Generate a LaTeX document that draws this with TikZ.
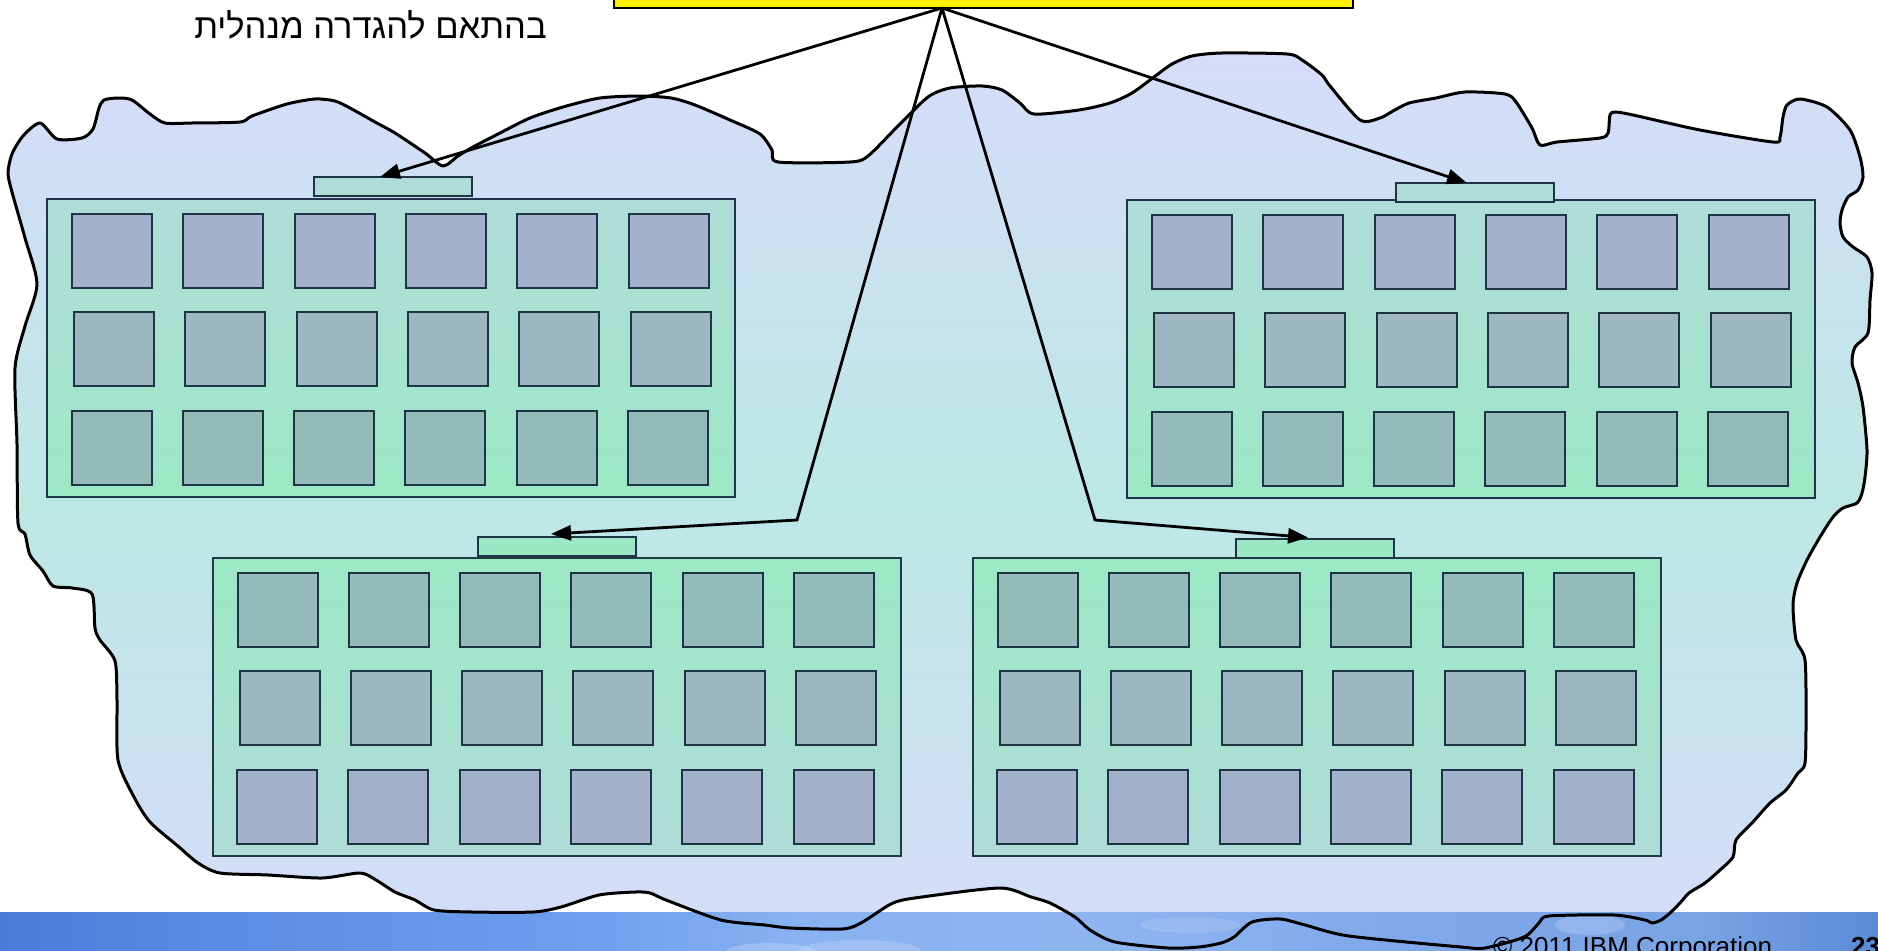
\documentclass[tikz,border=0pt]{standalone}
\usepackage{fontspec}
\setmainfont{Liberation Sans}
\newfontfamily\hebfont[Script=Hebrew]{Liberation Sans}
\TeXXeTstate=1
\usetikzlibrary{arrows.meta,calc}
\definecolor{cloudTop}{HTML}{D6DCFA}
\definecolor{cloudMid}{HTML}{BCE8E4}
\definecolor{rackBlue}{HTML}{B0DCD8}
\definecolor{rackGreen}{HTML}{9CE8C6}
\definecolor{sqA}{HTML}{A4B1CB}
\definecolor{sqB}{HTML}{9CB6C2}
\definecolor{sqC}{HTML}{94BBB9}
\definecolor{edgeNavy}{HTML}{22324E}
\definecolor{edgeTeal}{HTML}{1E3C42}
\definecolor{sqedge}{HTML}{1F3346}
\definecolor{barA}{HTML}{4A7BD8}
\definecolor{barB}{HTML}{5A8BE3}
\definecolor{barC}{HTML}{6F9FEE}
\definecolor{barD}{HTML}{88B2F1}
\definecolor{barE}{HTML}{8FB5F0}
\definecolor{barF}{HTML}{80A8EA}
\definecolor{barG}{HTML}{78A3E5}
\definecolor{barH}{HTML}{5B8AD6}
\newcommand{\DrawRack}[8]{%
  \path[draw=#8, line width=2pt, top color=#3, bottom color=#4] (#1,#2) rectangle ++(688,297.5);
  \foreach \c in {0,...,5}{%
    \path[sq, fill=#5] ({#1+25+111.3*\c},{#2+14.5}) rectangle ++(80,74);
    \path[sq, fill=#6] ({#1+27+111.3*\c},{#2+113}) rectangle ++(80,74);
    \path[sq, fill=#7] ({#1+24.5+111.3*\c},{#2+211.5}) rectangle ++(80,74);
  }%
}
\begin{document}
\begin{tikzpicture}[x=1pt,y=-1pt,
  cloudline/.style={draw=black, line width=3pt, line join=round},
  sq/.style={draw=sqedge, line width=2pt},
  smallbox/.style={draw=sqedge, line width=2pt, inner sep=0pt, outer sep=0pt, minimum width=158pt, minimum height=19pt, anchor=north west},
  conn/.style={draw=black, line width=2.8pt},
  arr/.style={conn, -{Triangle[length=20pt,width=15pt]}},
  ybox/.style={draw=black, line width=2.5pt, fill=yellow, inner sep=0pt, outer sep=0pt, anchor=north west}
]
\useasboundingbox (0,0) rectangle (1878,950);
\clip (0,0) rectangle (1878,950);
\fill[white] (0,0) rectangle (1878,950);
% cloud fill
\shade[top color=cloudTop, bottom color=cloudTop, middle color=cloudMid]
 plot[smooth cycle, tension=0.45] coordinates {
 (40,123) (57,139) (82,138) (93,129) (99,108) (104,100) (118,98) (132,100) (150,114) (165,123) (192,123) (240,122) (252,116) (287,104) (315,99) (335,101) (350,108) (375,122) (395,133) (425,153) (443,166) (458,156) (473,147) (500,133) (530,118) (563,107) (600,98) (640,96) (671,98) (695,105) (730,120) (760,134) (772,150) (778,162) (850,162) (868,156) (898,126) (928,97) (950,88) (982,86) (1002,90) (1020,103) (1034,114) (1079,110) (1110,103) (1132,93) (1154,77) (1172,64) (1192,56) (1222,53) (1287,54) (1302,60) (1322,75) (1330,86) (1360,120) (1380,118) (1393,111) (1409,103) (1436,98) (1465,92) (1505,94) (1516,102) (1532,128) (1540,145) (1557,142) (1600,138) (1608,133) (1610,115) (1615,112) (1633,115) (1700,130) (1773,142) (1780,137) (1783,117) (1787,105) (1800,99) (1827,107) (1850,130) (1860,157) (1863,177)
 (1858,190) (1848,197) (1842,210) (1840,223) (1843,237) (1853,247) (1867,257) (1872,273) (1870,300) (1868,333) (1855,347) (1852,363) (1858,383) (1863,407) (1867,450) (1865,477) (1862,493) (1857,503) (1843,508) (1833,517) (1820,537) (1807,560) (1797,583) (1793,605) (1796,640) (1805,660) (1806,717) (1805,763) (1798,773) (1786,790) (1770,803) (1752,823) (1736,840) (1733,857) (1720,870) (1705,883) (1689,893) (1680,903) (1670,913) (1661,920) (1652,923) (1645,920) (1614,915) (1549,916) (1539,923) (1524,937) (1485,948) (1461,947) (1349,936) (1305,925) (1280,919) (1252,922) (1234,937) (1221,943) (1199,947) (1168,948) (1115,942) (1090,930) (1075,917) (1050,903) (1031,897) (1000,888) (922,897) (893,903) (861,923) (842,929) (790,928) (765,925) (721,920) (666,900) (650,893) (635,892) (599,895) (561,907) (533,912) (472,912) (434,910) (415,900) (395,892) (376,880) (360,873) (322,878) (268,875) (220,873) (198,863) (179,847) (150,822) (134,797) (118,760) (117,700) (115,661) (100,640) (95,628) (92,594) (72,588) (53,586) (43,571) (30,555) (25,534) (18,523) (17,444) (15,368) (25,326) (37,284) (25,238) (12,192) (8,173) (12,154) (23,136)
 };
% bottom bar
\shade[left color=barA, right color=barB] (0,912) rectangle (201,950);
\shade[left color=barB, right color=barC] (200,912) rectangle (601,950);
\shade[left color=barC, right color=barD] (600,912) rectangle (801,950);
\shade[left color=barD, right color=barE] (800,912) rectangle (1101,950);
\shade[left color=barE, right color=barF] (1100,912) rectangle (1401,950);
\shade[left color=barF, right color=barG] (1400,912) rectangle (1701,950);
\shade[left color=barG, right color=barH] (1700,912) rectangle (1878,950);
\fill[white, opacity=0.2] (770,952) ellipse (45 and 9);
\fill[white, opacity=0.18] (860,950) ellipse (60 and 10);
\fill[white, opacity=0.12] (1190,925) ellipse (50 and 8);
\fill[white, opacity=0.18] (1590,925) ellipse (35 and 10);
% cloud outline
\draw[cloudline]
 plot[smooth cycle, tension=0.45] coordinates {
 (40,123) (57,139) (82,138) (93,129) (99,108) (104,100) (118,98) (132,100) (150,114) (165,123) (192,123) (240,122) (252,116) (287,104) (315,99) (335,101) (350,108) (375,122) (395,133) (425,153) (443,166) (458,156) (473,147) (500,133) (530,118) (563,107) (600,98) (640,96) (671,98) (695,105) (730,120) (760,134) (772,150) (778,162) (850,162) (868,156) (898,126) (928,97) (950,88) (982,86) (1002,90) (1020,103) (1034,114) (1079,110) (1110,103) (1132,93) (1154,77) (1172,64) (1192,56) (1222,53) (1287,54) (1302,60) (1322,75) (1330,86) (1360,120) (1380,118) (1393,111) (1409,103) (1436,98) (1465,92) (1505,94) (1516,102) (1532,128) (1540,145) (1557,142) (1600,138) (1608,133) (1610,115) (1615,112) (1633,115) (1700,130) (1773,142) (1780,137) (1783,117) (1787,105) (1800,99) (1827,107) (1850,130) (1860,157) (1863,177)
 (1858,190) (1848,197) (1842,210) (1840,223) (1843,237) (1853,247) (1867,257) (1872,273) (1870,300) (1868,333) (1855,347) (1852,363) (1858,383) (1863,407) (1867,450) (1865,477) (1862,493) (1857,503) (1843,508) (1833,517) (1820,537) (1807,560) (1797,583) (1793,605) (1796,640) (1805,660) (1806,717) (1805,763) (1798,773) (1786,790) (1770,803) (1752,823) (1736,840) (1733,857) (1720,870) (1705,883) (1689,893) (1680,903) (1670,913) (1661,920) (1652,923) (1645,920) (1614,915) (1549,916) (1539,923) (1524,937) (1485,948) (1461,947) (1349,936) (1305,925) (1280,919) (1252,922) (1234,937) (1221,943) (1199,947) (1168,948) (1115,942) (1090,930) (1075,917) (1050,903) (1031,897) (1000,888) (922,897) (893,903) (861,923) (842,929) (790,928) (765,925) (721,920) (666,900) (650,893) (635,892) (599,895) (561,907) (533,912) (472,912) (434,910) (415,900) (395,892) (376,880) (360,873) (322,878) (268,875) (220,873) (198,863) (179,847) (150,822) (134,797) (118,760) (117,700) (115,661) (100,640) (95,628) (92,594) (72,588) (53,586) (43,571) (30,555) (25,534) (18,523) (17,444) (15,368) (25,326) (37,284) (25,238) (12,192) (8,173) (12,154) (23,136)
 };
% racks
\DrawRack{47}{199}{rackBlue}{rackGreen}{sqA}{sqB}{sqC}{edgeNavy}
\DrawRack{1127}{200}{rackBlue}{rackGreen}{sqA}{sqB}{sqC}{edgeNavy}
\DrawRack{212.5}{558}{rackGreen}{rackBlue}{sqC}{sqB}{sqA}{edgeTeal}
\DrawRack{972.5}{558}{rackGreen}{rackBlue}{sqC}{sqB}{sqA}{edgeTeal}
% small boxes on racks
\node[smallbox, fill=rackBlue] (sb1) at (314,177) {};
\node[smallbox, fill=rackBlue] (sb2) at (1396,183) {};
\node[smallbox, fill=rackGreen] (sb3) at (478,537) {};
\node[smallbox, fill=rackGreen] (sb4) at (1236,539) {};
% yellow box
\node[ybox, minimum width=739pt, minimum height=32pt] (yb) at (614,-24) {};
\coordinate (apex) at ([xshift=-41.5pt]yb.south);
\coordinate (c3) at (797,520);
\coordinate (c4) at (1095,520);
% connectors
\draw[arr] (apex) -- ([xshift=-13pt]sb1.north);
\draw[arr] (apex) -- ([xshift=-8pt]sb2.north);
\draw[arr] (apex) -- (c3) -- ([xshift=-6pt,yshift=3pt]sb3.north);
\draw[arr] (apex) -- (c4) -- ([xshift=-7pt,yshift=1.5pt]sb4.north);
% texts
\node[font=\hebfont\fontsize{34.5}{40}\selectfont, anchor=base, inner sep=0pt] (note) at (370.5,38) {\beginR בהתאם להגדרה מנהלית\endR};
\node[font=\fontsize{26}{30}\selectfont, anchor=base west, inner sep=0pt] (copy) at (1493,955.5) {© 2011 IBM Corporation};
\node[font=\bfseries\fontsize{26}{30}\selectfont, anchor=base west, inner sep=0pt] (page) at (1851,955.5) {23};
\end{tikzpicture}
\end{document}
